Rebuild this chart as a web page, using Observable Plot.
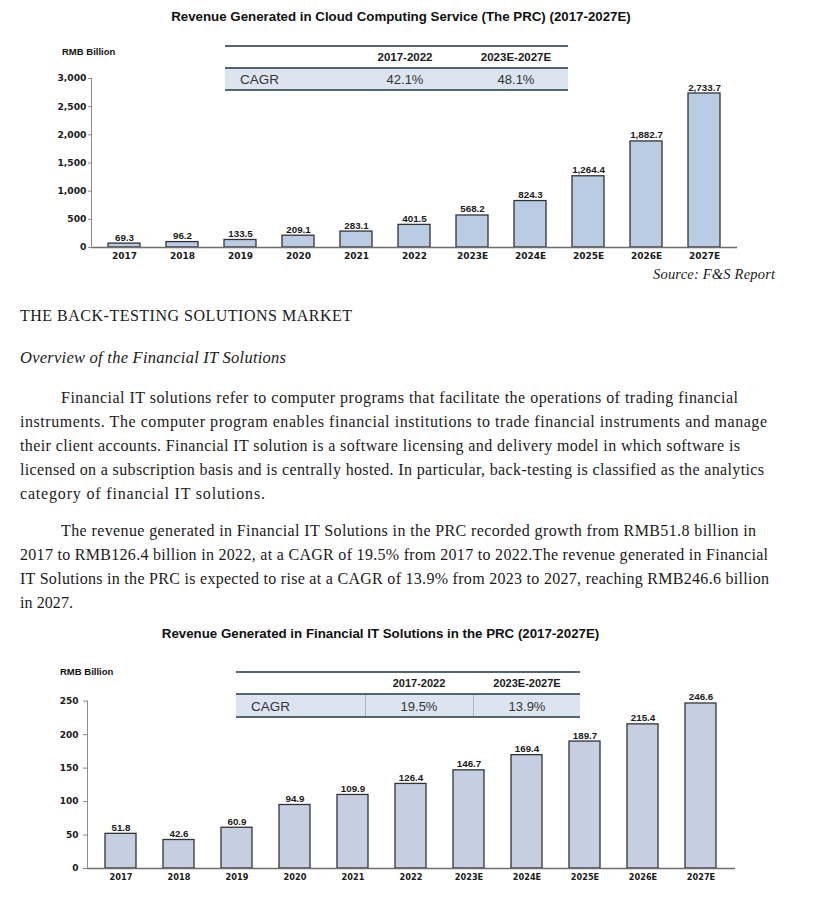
<!DOCTYPE html>
<html><head><meta charset="utf-8">
<script src="https://cdn.jsdelivr.net/npm/d3@7"></script>
<script src="https://cdn.jsdelivr.net/npm/@observablehq/plot@0.6"></script>
<style>
html,body{margin:0;padding:0;background:#fff;}
#page{position:relative;width:816px;height:902px;overflow:hidden;background:#fff;font-family:"Liberation Sans",Arial,sans-serif;color:#111;}
.abs{position:absolute;white-space:nowrap;}
.ctitle{font-weight:bold;font-size:13.3px;line-height:16px;transform:translateX(-50%);}
.unit{font-weight:bold;font-size:9.5px;line-height:12px;}
.serif{font-family:"Liberation Serif","Times New Roman",serif;font-size:16px;line-height:20px;color:#1a1a1a;}
.plotbox{position:absolute;left:0;}
.tbl{position:absolute;}
.hline{position:absolute;left:0;right:0;height:2px;background:#56646f;}
.cell{position:absolute;transform:translate(-50%,-50%);white-space:nowrap;}
</style></head>
<body><div id="page"></div>
<script>
// ---------------- data ----------------
const years = ["2017","2018","2019","2020","2021","2022","2023E","2024E","2025E","2026E","2027E"];
const cloudValues = [69.3, 96.2, 133.5, 209.1, 283.1, 401.5, 568.2, 824.3, 1264.4, 1882.7, 2733.7];
const finValues = [51.8, 42.6, 60.9, 94.9, 109.9, 126.4, 146.7, 169.4, 189.7, 215.4, 246.6];
const cloudTicks = [0, 500, 1000, 1500, 2000, 2500, 3000];
const finTicks = [0, 50, 100, 150, 200, 250];
const cagrPeriods = ["2017-2022", "2023E-2027E"];
const cagrCloud = ["42.1%", "48.1%"];
const cagrFin = ["19.5%", "13.9%"];
const cloudTitle = "Revenue Generated in Cloud Computing Service (The PRC) (2017-2027E)";
const finTitle = "Revenue Generated in Financial IT Solutions in the PRC (2017-2027E)";
const unitLabel = "RMB Billion";
const sourceText = "Source: F&S Report";
const heading = "THE BACK-TESTING SOLUTIONS MARKET";
const subheading = "Overview of the Financial IT Solutions";
const para1 = [
  "Financial IT solutions refer to computer programs that facilitate the operations of trading financial",
  "instruments. The computer program enables financial institutions to trade financial instruments and manage",
  "their client accounts. Financial IT solution is a software licensing and delivery model in which software is",
  "licensed on a subscription basis and is centrally hosted. In particular, back-testing is classified as the analytics",
  "category of financial IT solutions."
];
const para2 = [
  "The revenue generated in Financial IT Solutions in the PRC recorded growth from RMB51.8 billion in",
  "2017 to RMB126.4 billion in 2022, at a CAGR of 19.5% from 2017 to 2022.The revenue generated in Financial",
  "IT Solutions in the PRC is expected to rise at a CAGR of 13.9% from 2023 to 2027, reaching RMB246.6 billion",
  "in 2027."
];
// right edges of each text line as seen in the picture (layout, not data)
const para1Right = [738, 767, 740, 764, 265];
const para2Right = [756, 768, 769, 73];

// ---------------- helpers ----------------
const page = document.getElementById("page");
function addDiv(cls, text, x, yc, extra = {}) {
  const d = document.createElement("div");
  d.className = "abs " + cls;
  d.textContent = text;
  d.style.left = x + "px";
  Object.assign(d.style, extra);
  page.appendChild(d);
  const h = d.offsetHeight;
  d.style.top = (yc - h / 2) + "px";
  return d;
}
function fitLine(text, x, yc, right) {
  const d = addDiv("serif", text, x, yc);
  const w = d.getBoundingClientRect().width;
  const ls = (right - x - w) / Math.max(1, text.length - 1);
  d.style.letterSpacing = Math.max(-0.3, Math.min(1.5, ls)).toFixed(3) + "px";
  return d;
}

const dejavuBold = "'DejaVu Sans', 'Liberation Sans', Arial, sans-serif";

function barChart({values, top, height, ml, mr, mt, mb, yDomain, yTicks, fill, pi, po, fmt,
                   xPad, xFont, yFont, ySize, yPad}) {
  const data = years.map((y, i) => ({year: y, value: values[i]}));
  const svg = Plot.plot({
    width: 816, height,
    marginLeft: ml, marginRight: mr, marginTop: mt, marginBottom: mb,
    style: {fontFamily: "'Liberation Sans', Arial, sans-serif", background: "transparent", overflow: "visible", color: "#1a1a1a"},
    x: {domain: years, paddingInner: pi, paddingOuter: po, axis: null},
    y: {domain: yDomain, axis: null},
    marks: [
      Plot.barY(data, {x: "year", y: "value", fill, stroke: "#333", strokeWidth: 1.3}),
      Plot.ruleY([0], {stroke: "#6e6e6e", strokeWidth: 1.3}),
      Plot.frame({anchor: "left", stroke: "#8a8a8a", strokeWidth: 1}),
      Plot.axisY({ticks: yTicks, tickFormat: d3.format(","), tickSize: ySize, tickPadding: yPad, label: null,
        fontSize: yFont, fontWeight: "bold", fontFamily: dejavuBold, stroke: "#8a8a8a", fill: "#1a1a1a"}),
      Plot.axisX({tickSize: 0, tickPadding: xPad, label: null, fontSize: xFont, fontWeight: "bold",
        fontFamily: dejavuBold, fill: "#1a1a1a"}),
      Plot.text(data, {x: "year", y: "value", text: d => fmt(d.value), lineAnchor: "bottom", dy: -3,
        fontSize: 9.8, fontWeight: "bold", fill: "#1a1a1a"})
    ]
  });
  const box = document.createElement("div");
  box.className = "plotbox";
  box.style.top = top + "px";
  box.appendChild(svg);
  page.appendChild(box);
}

function cagrTable({left, right, top, headerH, rowH, centers, values, seps, headSize}) {
  const t = document.createElement("div");
  t.className = "tbl";
  t.style.left = left + "px";
  t.style.top = top + "px";
  t.style.width = (right - left) + "px";
  t.style.height = (headerH + rowH + 6) + "px";
  const l1 = document.createElement("div"); l1.className = "hline"; l1.style.top = "0px"; t.appendChild(l1);
  const row = document.createElement("div");
  row.style.cssText = `position:absolute;left:0;right:0;top:${headerH + 2}px;height:${rowH}px;background:#dce5ef;`;
  t.appendChild(row);
  const l2 = document.createElement("div"); l2.className = "hline"; l2.style.top = headerH + "px"; t.appendChild(l2);
  const l3 = document.createElement("div"); l3.className = "hline"; l3.style.top = (headerH + rowH + 2) + "px"; t.appendChild(l3);
  if (seps) seps.forEach(sx => {
    const s = document.createElement("div");
    s.style.cssText = `position:absolute;left:${sx - left}px;top:${headerH + 2}px;width:1px;height:${rowH}px;background:#aab6c3;`;
    t.appendChild(s);
  });
  cagrPeriods.forEach((p, i) => {
    const c = document.createElement("div");
    c.className = "cell";
    c.textContent = p;
    c.style.cssText += `left:${centers[i] - left}px;top:${headerH / 2 + 1}px;font-weight:bold;font-size:${headSize}px;color:#1a1a1a;`;
    t.appendChild(c);
    const v = document.createElement("div");
    v.className = "cell";
    v.textContent = values[i];
    v.style.cssText += `left:${centers[i] - left}px;top:${headerH + 2 + rowH / 2}px;font-size:13px;color:#333;`;
    t.appendChild(v);
  });
  const c = document.createElement("div");
  c.className = "cell";
  c.textContent = "CAGR";
  c.style.cssText += `left:${15}px;top:${headerH + 2 + rowH / 2}px;font-size:13.5px;color:#333;transform:translate(0,-50%);`;
  t.appendChild(c);
  page.appendChild(t);
}

// ---------------- top chart ----------------
addDiv("ctitle", cloudTitle, 401, 16.5);
addDiv("unit", unitLabel, 62, 51.5);
barChart({values: cloudValues, top: 60, height: 230, ml: 91, mr: 79, mt: 18, mb: 43,
  yDomain: [0, 3000], yTicks: cloudTicks, fill: "#b9cce3", pi: 0.44, po: 0.22,
  fmt: d3.format(",.1f"), xPad: 5, xFont: 9, yFont: 9.2, ySize: 3, yPad: 2});
cagrTable({left: 225, right: 568, top: 45, headerH: 22, rowH: 20, centers: [405, 516], values: cagrCloud, headSize: 11.5});
const src = addDiv("serif", sourceText, 0, 273.5, {fontStyle: "italic", fontSize: "14.5px", letterSpacing: "0.2px"});
src.style.left = (775 - src.offsetWidth) + "px";

// ---------------- text ----------------
addDiv("serif", heading, 20, 316, {letterSpacing: "0.5px"});
addDiv("serif", subheading, 20, 358, {fontStyle: "italic", fontSize: "16.5px", letterSpacing: "0.25px"});
para1.forEach((ln, i) => fitLine(ln, i === 0 ? 61 : 20, 398 + i * 24, para1Right[i]));
para2.forEach((ln, i) => fitLine(ln, i === 0 ? 61 : 20, 531 + i * 24, para2Right[i]));

// ---------------- bottom chart ----------------
addDiv("ctitle", finTitle, 380.5, 634);
addDiv("unit", unitLabel, 60, 672);
barChart({values: finValues, top: 680, height: 220, ml: 87, mr: 81, mt: 20.7, mb: 32,
  yDomain: [0, 250], yTicks: finTicks, fill: "#c5cfe1", pi: 0.46, po: 0.23,
  fmt: d3.format(".1f"), xPad: 6, xFont: 8.2, yFont: 9, ySize: 4, yPad: 5});
cagrTable({left: 236, right: 580, top: 671, headerH: 22, rowH: 21, centers: [419, 527], values: cagrFin,
  seps: [365, 473], headSize: 11});
</script>
</body></html>
